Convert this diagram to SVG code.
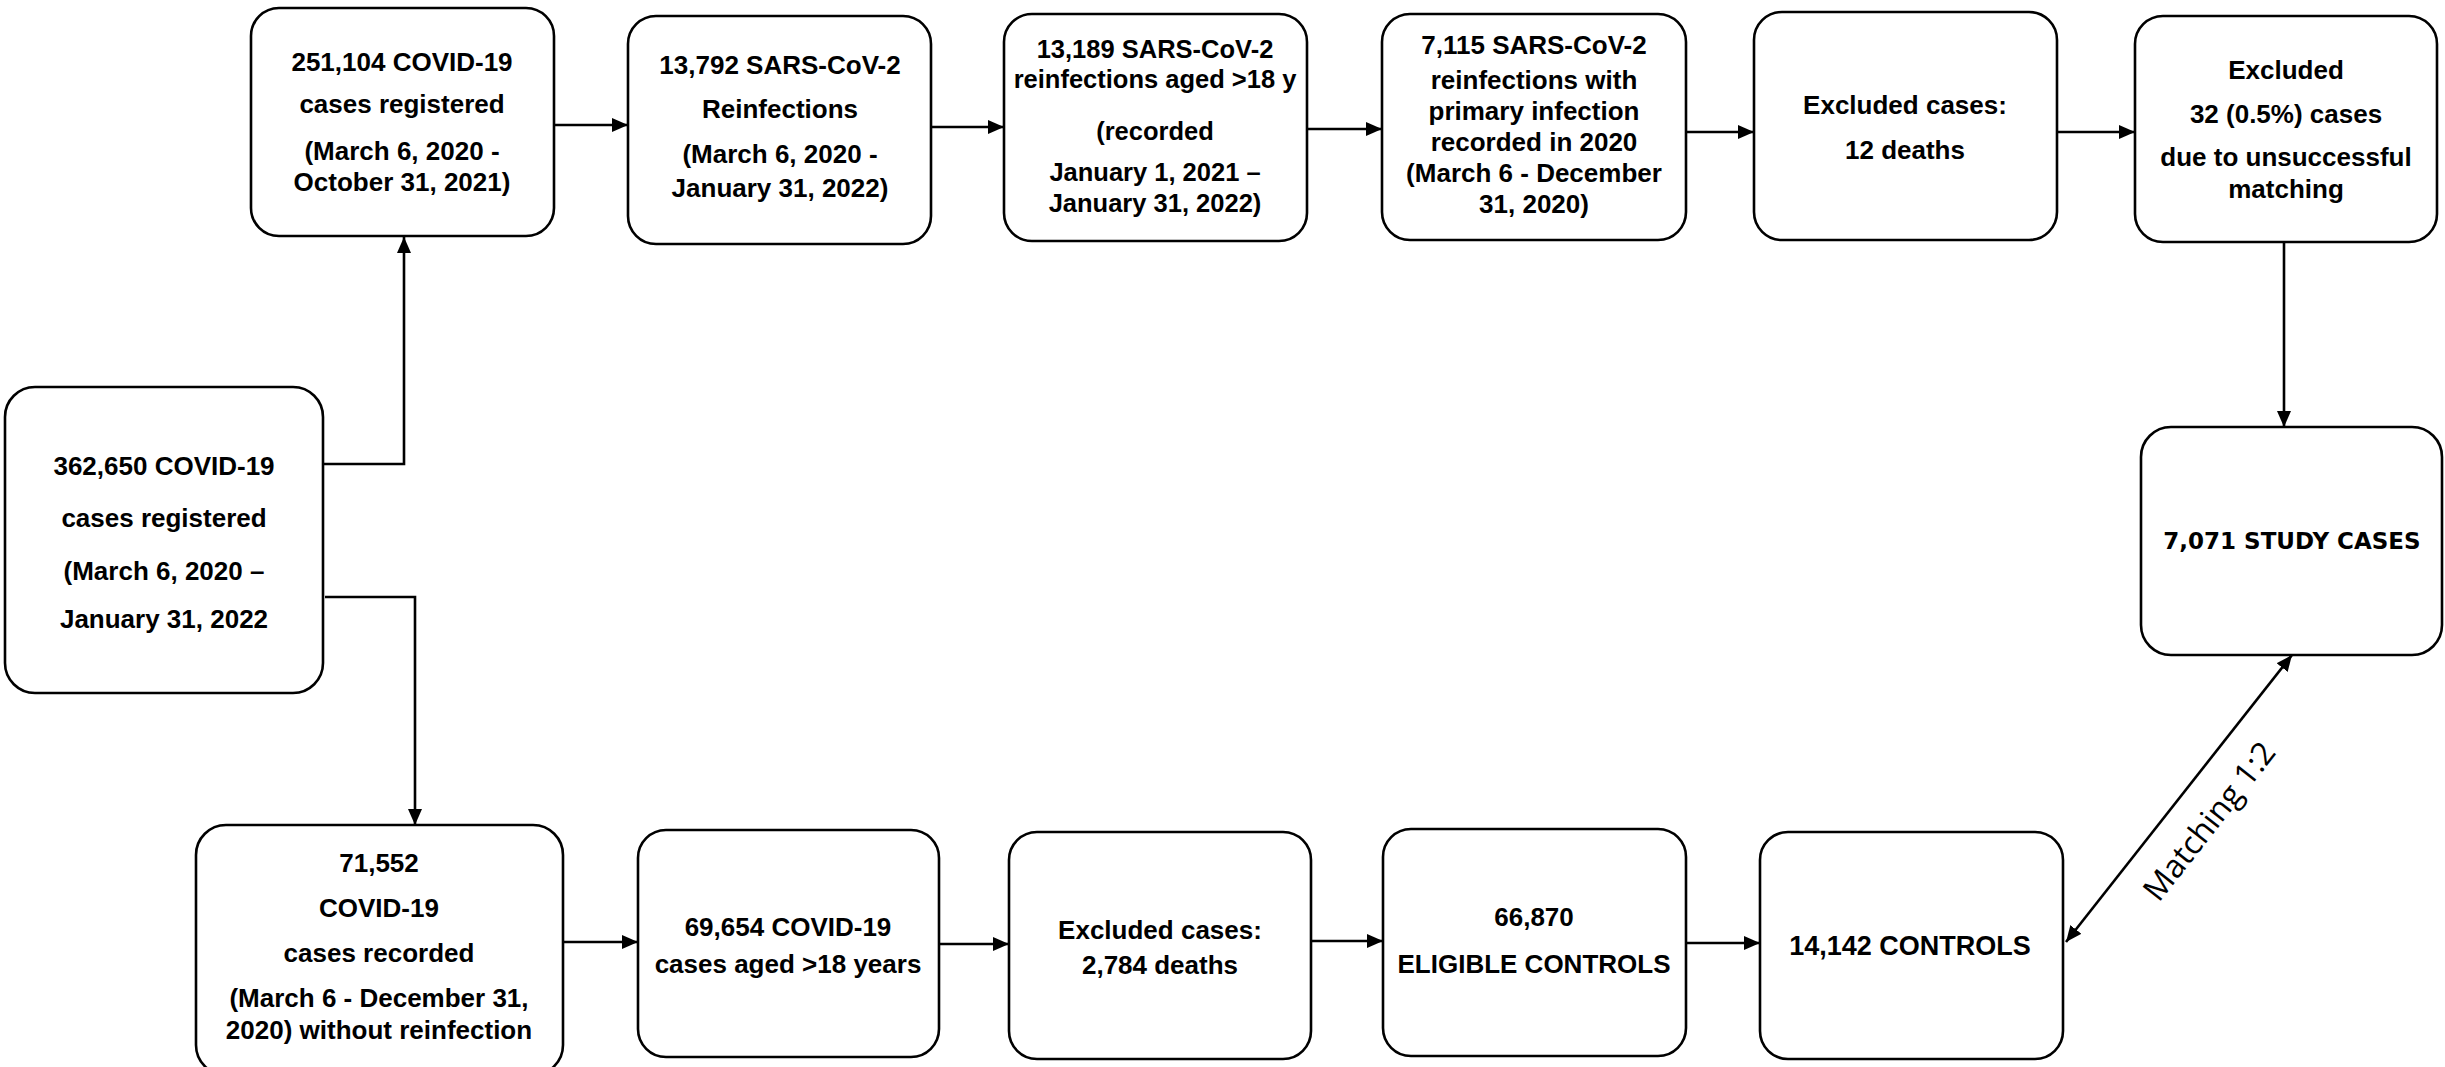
<svg xmlns="http://www.w3.org/2000/svg" width="2445" height="1067" viewBox="0 0 2445 1067">
<style>
.box{fill:#fff;stroke:#000;stroke-width:2.6}
.t{font-family:"Liberation Sans","Arial",sans-serif;font-weight:bold;font-size:26px;text-anchor:middle;fill:#000}
.s{font-family:"DejaVu Sans","Verdana",sans-serif;font-weight:bold;font-size:23px;text-anchor:middle;fill:#000}
.m{font-family:"Open Sans","Liberation Sans",sans-serif;font-size:32px;text-anchor:middle;fill:#000}
.c{fill:none;stroke:#000;stroke-width:2.6}
</style>
<defs>
<marker id="ah" markerUnits="userSpaceOnUse" markerWidth="18" markerHeight="14" refX="16" refY="7" orient="auto-start-reverse">
<path d="M0,0 L16,7 L0,14 Z" fill="#000"/>
</marker>
</defs>
<rect width="2445" height="1067" fill="#fff"/>
<g id="connectors">
<path class="c" d="M323,464 H404 V237" marker-end="url(#ah)"/>
<path class="c" d="M325,597 H415 V825" marker-end="url(#ah)"/>
<path class="c" d="M554,125 H628" marker-end="url(#ah)"/>
<path class="c" d="M931,127 H1004" marker-end="url(#ah)"/>
<path class="c" d="M1307,129 H1382" marker-end="url(#ah)"/>
<path class="c" d="M1686,132 H1754" marker-end="url(#ah)"/>
<path class="c" d="M2057,132 H2135" marker-end="url(#ah)"/>
<path class="c" d="M2284,242 V427" marker-end="url(#ah)"/>
<path class="c" d="M563,942 H638" marker-end="url(#ah)"/>
<path class="c" d="M934,944 H1009" marker-end="url(#ah)"/>
<path class="c" d="M1308,941 H1383" marker-end="url(#ah)"/>
<path class="c" d="M1686,943 H1760" marker-end="url(#ah)"/>
<path class="c" d="M2066,942 L2292,655" marker-start="url(#ah)" marker-end="url(#ah)"/>
<text class="m" transform="translate(2218,828) rotate(-51.8)">Matching 1:2</text>
</g>
<g id="n_total">
<rect class="box" x="5" y="387" width="318" height="306" rx="30"/>
<text class="t" x="164" y="475">362,650 COVID-19</text>
<text class="t" x="164" y="527">cases registered</text>
<text class="t" x="164" y="580">(March 6, 2020 –</text>
<text class="t" x="164" y="628">January 31, 2022</text>
</g>
<g id="n_251104">
<rect class="box" x="251" y="8" width="303" height="228" rx="28"/>
<text class="t" x="402" y="71">251,104 COVID-19</text>
<text class="t" x="402" y="113">cases registered</text>
<text class="t" x="402" y="160">(March 6, 2020 -</text>
<text class="t" x="402" y="191">October 31, 2021)</text>
</g>
<g id="n_13792">
<rect class="box" x="628" y="16" width="303" height="228" rx="28"/>
<text class="t" x="780" y="74">13,792 SARS-CoV-2</text>
<text class="t" x="780" y="118">Reinfections</text>
<text class="t" x="780" y="163">(March 6, 2020 -</text>
<text class="t" x="780" y="197">January 31, 2022)</text>
</g>
<g id="n_13189">
<rect class="box" x="1004" y="14" width="303" height="227" rx="28"/>
<text class="t" x="1155" y="58" style="font-size:25.5px">13,189 SARS-CoV-2</text>
<text class="t" x="1155" y="88" style="font-size:25.5px">reinfections aged &gt;18 y</text>
<text class="t" x="1155" y="140" style="font-size:25.5px">(recorded</text>
<text class="t" x="1155" y="181" style="font-size:25.5px">January 1, 2021 –</text>
<text class="t" x="1155" y="212" style="font-size:25.5px">January 31, 2022)</text>
</g>
<g id="n_7115">
<rect class="box" x="1382" y="14" width="304" height="226" rx="28"/>
<text class="t" x="1534" y="54">7,115 SARS-CoV-2</text>
<text class="t" x="1534" y="89">reinfections with</text>
<text class="t" x="1534" y="120">primary infection</text>
<text class="t" x="1534" y="151">recorded in 2020</text>
<text class="t" x="1534" y="182">(March 6 - December</text>
<text class="t" x="1534" y="213">31, 2020)</text>
</g>
<g id="n_excl12">
<rect class="box" x="1754" y="12" width="303" height="228" rx="28"/>
<text class="t" x="1905" y="114">Excluded cases:</text>
<text class="t" x="1905" y="159">12 deaths</text>
</g>
<g id="n_excl32">
<rect class="box" x="2135" y="16" width="302" height="226" rx="28"/>
<text class="t" x="2286" y="79">Excluded</text>
<text class="t" x="2286" y="123">32 (0.5%) cases</text>
<text class="t" x="2286" y="166">due to unsuccessful</text>
<text class="t" x="2286" y="198">matching</text>
</g>
<g id="n_study">
<rect class="box" x="2141" y="427" width="301" height="228" rx="30"/>
<text class="s" x="2292" y="549">7,071 STUDY CASES</text>
</g>
<g id="n_71552">
<rect class="box" x="196" y="825" width="367" height="250" rx="30"/>
<text class="t" x="379" y="872">71,552</text>
<text class="t" x="379" y="917">COVID-19</text>
<text class="t" x="379" y="962">cases recorded</text>
<text class="t" x="379" y="1007">(March 6 - December 31,</text>
<text class="t" x="379" y="1039">2020) without reinfection</text>
</g>
<g id="n_69654">
<rect class="box" x="638" y="830" width="301" height="227" rx="28"/>
<text class="t" x="788" y="936">69,654 COVID-19</text>
<text class="t" x="788" y="973">cases aged &gt;18 years</text>
</g>
<g id="n_excl2784">
<rect class="box" x="1009" y="832" width="302" height="227" rx="28"/>
<text class="t" x="1160" y="939">Excluded cases:</text>
<text class="t" x="1160" y="974">2,784 deaths</text>
</g>
<g id="n_66870">
<rect class="box" x="1383" y="829" width="303" height="227" rx="28"/>
<text class="t" x="1534" y="926">66,870</text>
<text class="t" x="1534" y="973">ELIGIBLE CONTROLS</text>
</g>
<g id="n_14142">
<rect class="box" x="1760" y="832" width="303" height="227" rx="28"/>
<text class="t" x="1910" y="955" style="font-size:27px">14,142 CONTROLS</text>
</g>
</svg>
